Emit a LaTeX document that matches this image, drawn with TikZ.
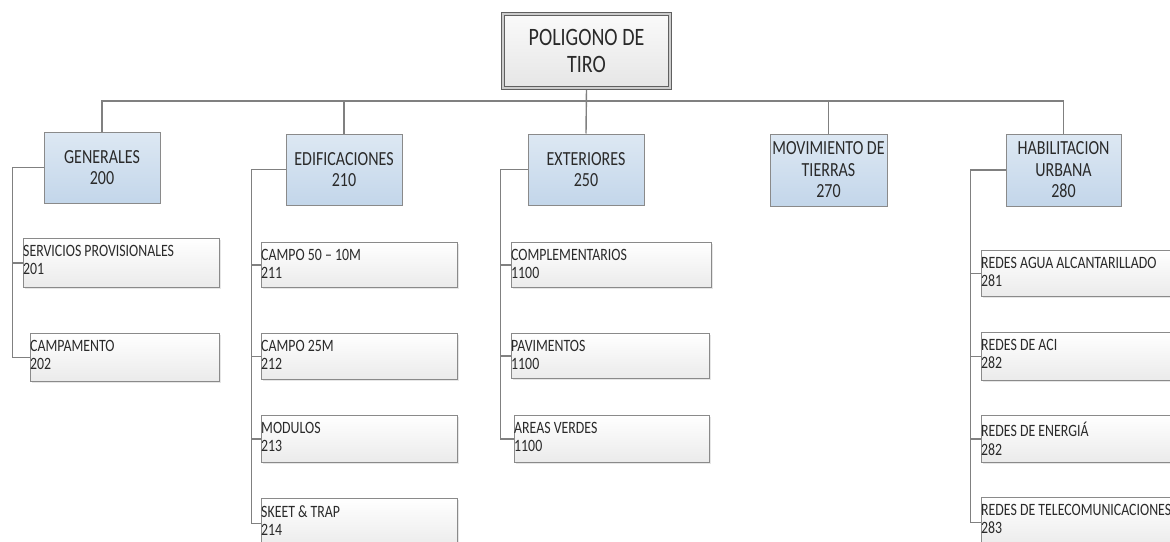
\documentclass[tikz,border=0pt]{standalone}
\usepackage{fontspec}
\setmainfont{Carlito}[FakeStretch=0.8]
\usetikzlibrary{shadows,backgrounds}
\definecolor{linegray}{HTML}{808080}
\definecolor{boxgray}{HTML}{8A8A8A}
\definecolor{blueTop}{HTML}{DDE8F3}
\definecolor{blueBot}{HTML}{C3D6EA}
\definecolor{txt}{HTML}{2A2A2A}
\newcommand\leafbox[6]{\node[leaf, minimum width=#4pt, minimum height=#5pt,
  label={[leaftext]north west:{#6}}] (#1) at (#2,#3) {};}
\begin{document}
\begin{tikzpicture}[x=1pt,y=-1pt,
  conn/.style={draw=linegray, line width=1.4pt},
  rootbox/.style={draw=gray!75!black, line width=0.9pt, double=gray!40, double distance=2.2pt,
    top color=gray!4, bottom color=gray!20, minimum width=167pt, minimum height=74pt,
    inner sep=0pt, align=center, font=\fontsize{25}{27}\selectfont, text=txt},
  lone/.style={draw=boxgray, line width=1pt, top color=blueTop, bottom color=blueBot,
    minimum width=116pt, minimum height=71pt, inner sep=0pt, align=center,
    font=\fontsize{20}{21.5}\selectfont, text=txt,
    drop shadow={shadow xshift=1.2pt, shadow yshift=-1.2pt, opacity=0.25}},
  leaf/.style={draw=boxgray, line width=0.9pt, top color=white, bottom color=gray!16,
    anchor=north west, inner sep=0pt,
    drop shadow={shadow xshift=1.2pt, shadow yshift=-1.2pt, opacity=0.2}},
  leaftext/.style={anchor=north west, inner sep=0pt, yshift=-7pt, align=left,
    font=\fontsize{17.3}{18.5}\selectfont, text=txt}
]
\useasboundingbox (0,0) rectangle (1170,541);
\clip (0,0) rectangle (1170,541);
\node[rootbox] (root) at (586.5,51) {POLIGONO DE\\TIRO};
\node[lone] (gen) at (102,167.5) {GENERALES\\200};
\node[lone] (edif) at (344,169.5) {EDIFICACIONES\\210};
\node[lone] (ext) at (586,169.5) {EXTERIORES\\250};
\node[lone, minimum width=117pt, minimum height=72pt] (mov) at (828.5,170) {MOVIMIENTO DE\\TIERRAS\\270};
\node[lone, minimum width=115pt, minimum height=72pt] (hab) at (1063.5,170) {HABILITACION\\URBANA\\280};

\leafbox{s1}{23}{238}{196}{49}{SERVICIOS PROVISIONALES\\201}
\leafbox{s2}{30}{333}{189}{48}{CAMPAMENTO\\202}

\leafbox{e1}{261}{242}{196}{45}{CAMPO 50 – 10M\\211}
\leafbox{e2}{261}{333}{196}{46}{CAMPO 25M\\212}
\leafbox{e3}{261}{415}{196}{47}{MODULOS\\213}
\leafbox{e4}{261}{498}{196}{50}{SKEET \& TRAP\\214}

\leafbox{x1}{511}{242}{200}{45}{COMPLEMENTARIOS\\1100}
\leafbox{x2}{511}{333}{198}{45}{PAVIMENTOS\\1100}
\leafbox{x3}{514}{415}{195}{47}{AREAS VERDES\\1100}

\leafbox{h1}{981}{250}{200}{46}{REDES AGUA ALCANTARILLADO\\281}
\leafbox{h2}{981}{332}{200}{48}{REDES DE ACI\\282}
\leafbox{h3}{981}{415}{200}{47}{REDES DE ENERGIÁ\\282}
\leafbox{h4}{981}{497}{200}{50}{REDES DE TELECOMUNICACIONES\\283}

\begin{scope}[on background layer]
\coordinate (bus) at (586.5,101);
\draw[conn] (root.south) -- (ext.north);
\draw[conn] (gen.north) |- (bus) -| (hab.north);
\draw[conn] (bus) -| (edif.north);
\draw[conn] (bus) -| (mov.north);
\draw[conn] (gen.west) -- ++(-31,0) |- (s2.west);
\draw[conn] (gen.west) ++(-31,0) |- (s1.west);
\draw[conn] (edif.west) -- ++(-34,0) |- (e4.west);
\foreach \c in {e1,e2,e3} \draw[conn] (edif.west) ++(-34,0) |- (\c.west);
\draw[conn] (ext.west) -- ++(-27,0) |- (x3.west);
\foreach \c in {x1,x2} \draw[conn] (ext.west) ++(-27,0) |- (\c.west);
\draw[conn] (hab.west) -- ++(-35,0) |- (h4.west);
\foreach \c in {h1,h2,h3} \draw[conn] (hab.west) ++(-35,0) |- (\c.west);
\end{scope}
\end{tikzpicture}
\end{document}
